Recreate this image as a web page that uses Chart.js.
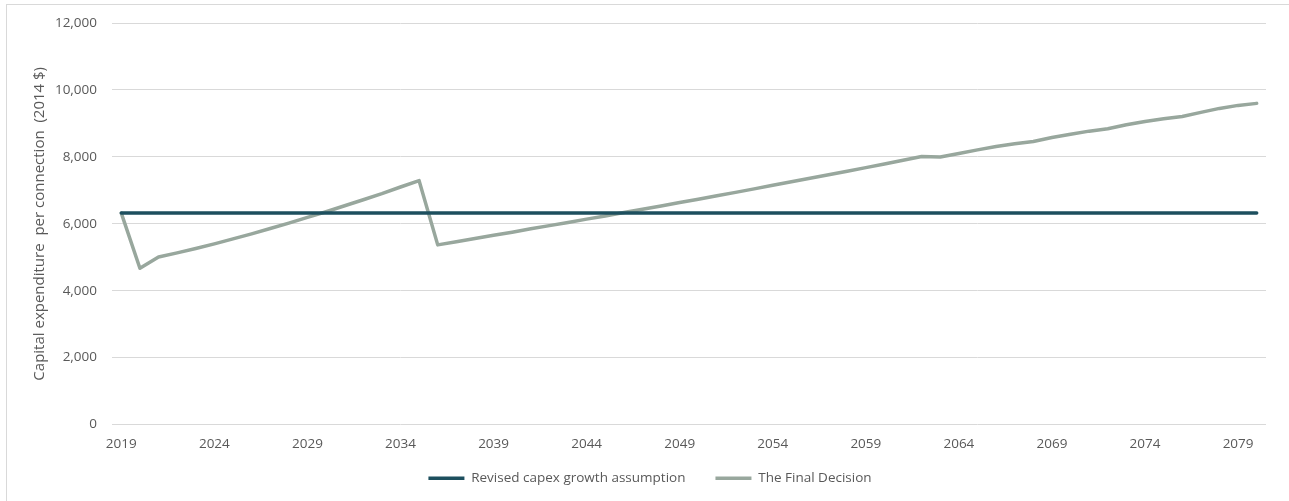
<!DOCTYPE html>
<html>
<head>
<meta charset="utf-8">
<script src="https://cdn.jsdelivr.net/npm/chart.js@4.4.1/dist/chart.umd.min.js"></script>
<style>
  html, body { margin: 0; padding: 0; background: #fff; }
  #wrap { position: relative; width: 1289px; height: 501px; overflow: hidden; }
  #frame { position: absolute; left: 6px; top: 4px; width: 1300px; height: 520px; border-left: 1px solid #d9d9d9; border-top: 1px solid #d9d9d9; }
  canvas { position: absolute; left: 0; top: 0; }
</style>
</head>
<body>
<div id="wrap">
  <div id="frame"></div>
  <canvas id="capex-chart" width="1289" height="501"></canvas>
</div>
<script>
'use strict';

// years on the category axis
const years = [
    '2019', '2020', '2021', '2022', '2023', '2024', '2025', '2026', '2027', '2028',
    '2029', '2030', '2031', '2032', '2033', '2034', '2035', '2036', '2037', '2038',
    '2039', '2040', '2041', '2042', '2043', '2044', '2045', '2046', '2047', '2048',
    '2049', '2050', '2051', '2052', '2053', '2054', '2055', '2056', '2057', '2058',
    '2059', '2060', '2061', '2062', '2063', '2064', '2065', '2066', '2067', '2068',
    '2069', '2070', '2071', '2072', '2073', '2074', '2075', '2076', '2077', '2078',
    '2079', '2080'
];

// Revised capex growth assumption (flat)
const revisedCapex = [
    6320, 6320, 6320, 6320, 6320, 6320, 6320, 6320, 6320, 6320,
    6320, 6320, 6320, 6320, 6320, 6320, 6320, 6320, 6320, 6320,
    6320, 6320, 6320, 6320, 6320, 6320, 6320, 6320, 6320, 6320,
    6320, 6320, 6320, 6320, 6320, 6320, 6320, 6320, 6320, 6320,
    6320, 6320, 6320, 6320, 6320, 6320, 6320, 6320, 6320, 6320,
    6320, 6320, 6320, 6320, 6320, 6320, 6320, 6320, 6320, 6320,
    6320, 6320
];

// The Final Decision
const finalDecision = [
    6320, 4670, 5010, 5130, 5260, 5400, 5550, 5700, 5860, 6020,
    6190, 6360, 6540, 6720, 6900, 7100, 7290, 5370, 5465, 5560,
    5655, 5750, 5850, 5945, 6040, 6140, 6235, 6335, 6435, 6535,
    6635, 6735, 6840, 6940, 7045, 7150, 7255, 7360, 7465, 7570,
    7680, 7790, 7900, 8010, 7995, 8100, 8210, 8310, 8390, 8460,
    8580, 8680, 8770, 8840, 8960, 9060, 9140, 9210, 9330, 9450,
    9540, 9600
];

const yTicks = [0, 2000, 4000, 6000, 8000, 10000, 12000];
const yTitle = 'Capital expenditure  per connection  (2014 $)';

const textColor = '#595959';
const gridColor = '#d9d9d9';
const tickFont = { family: "'Open Sans', sans-serif", size: 13.5 };
const titleFont = { family: "'Open Sans', sans-serif", size: 15 };

const ctx = document.getElementById('capex-chart').getContext('2d');

new Chart(ctx, {
    type: 'line',
    data: {
        labels: years,
        datasets: [
            { label: 'Revised capex growth assumption', data: revisedCapex, borderColor: '#1d4f5e', backgroundColor: '#1d4f5e', borderWidth: 3.5, pointRadius: 0, tension: 0, borderCapStyle: 'round' },
            { label: 'The Final Decision', data: finalDecision, borderColor: '#98a79d', backgroundColor: '#98a79d', borderWidth: 3.5, pointRadius: 0, tension: 0, borderJoinStyle: 'round', borderCapStyle: 'round' }
        ]
    },
    options: {
        responsive: false,
        animation: false,
        devicePixelRatio: 1,
        layout: { padding: { left: 34, right: 23, top: 23, bottom: 6 } },
        plugins: {
            tooltip: { enabled: false },
            legend: {
                position: 'bottom',
                labels: {
                    usePointStyle: true,
                    pointStyle: 'line',
                    pointStyleWidth: 36,
                    padding: 30,
                    color: textColor,
                    font: tickFont
                }
            }
        },
        scales: {
            x: {
                offset: true,
                grid: { display: false },
                border: { display: false },
                ticks: {
                    autoSkip: false,
                    maxRotation: 0,
                    padding: 4,
                    color: textColor,
                    font: tickFont,
                    callback: (val, i) => (i % 5 === 0 ? years[i] : '')
                },
                afterFit: (scale) => {
                    scale.height = 17;
                    // labels sit below this thin box, so don't clip them to it
                    scale._computeLabelArea = () => undefined;
                }
            },
            y: {
                min: 0,
                max: 12000,
                afterBuildTicks: (scale) => { scale.ticks = yTicks.map(v => ({ value: v })); },
                grid: { color: gridColor, drawTicks: false },
                border: { display: false },
                ticks: {
                    padding: 15,
                    color: textColor,
                    font: tickFont,
                    callback: (v) => v.toLocaleString('en-US')
                },
                title: {
                    display: true,
                    text: yTitle,
                    color: textColor,
                    font: titleFont,
                    padding: { top: -3 }
                },
                afterFit: (scale) => { scale.width = 78; }
            }
        }
    }
});
</script>
</body>
</html>
